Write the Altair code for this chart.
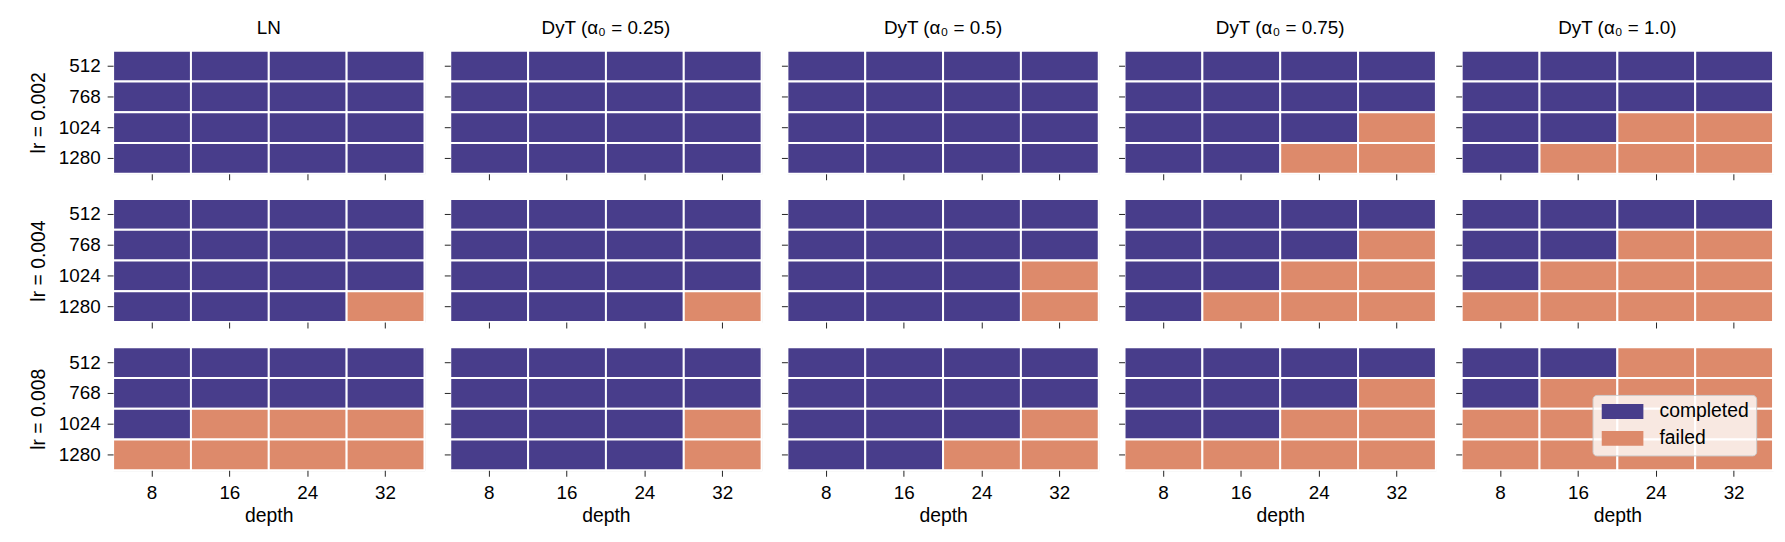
import altair as alt
import pandas as pd

methods = ["LN", "DyT (α₀ = 0.25)", "DyT (α₀ = 0.5)", "DyT (α₀ = 0.75)", "DyT (α₀ = 1.0)"]
lrs = ["0.002", "0.004", "0.008"]
depths = [8, 16, 24, 32]
widths = [512, 768, 1024, 1280]

# one grid per method; each string is a width row (512..1280), chars are depths 8..32
# C = completed, F = failed
grids_lr_0002 = [
    ["CCCC", "CCCC", "CCCC", "CCCC"],
    ["CCCC", "CCCC", "CCCC", "CCCC"],
    ["CCCC", "CCCC", "CCCC", "CCCC"],
    ["CCCC", "CCCC", "CCCF", "CCFF"],
    ["CCCC", "CCCC", "CCFF", "CFFF"],
]
grids_lr_0004 = [
    ["CCCC", "CCCC", "CCCC", "CCCF"],
    ["CCCC", "CCCC", "CCCC", "CCCF"],
    ["CCCC", "CCCC", "CCCF", "CCCF"],
    ["CCCC", "CCCF", "CCFF", "CFFF"],
    ["CCCC", "CCFF", "CFFF", "FFFF"],
]
grids_lr_0008 = [
    ["CCCC", "CCCC", "CFFF", "FFFF"],
    ["CCCC", "CCCC", "CCCF", "CCCF"],
    ["CCCC", "CCCC", "CCCF", "CCFF"],
    ["CCCC", "CCCF", "CCFF", "FFFF"],
    ["CCFF", "CFFF", "FFFF", "FFFF"],
]
all_grids = [grids_lr_0002, grids_lr_0004, grids_lr_0008]

status_names = ["completed", "failed"]
status_colors = ["#483D8B", "#DD8A6B"]

rows = []
for lr, grids in zip(lrs, all_grids):
    for m, grid in zip(methods, grids):
        for w, line in zip(widths, grid):
            for d, ch in zip(depths, line):
                rows.append({"lr": lr, "method": m, "width": w, "depth": d,
                             "status": "completed" if ch == "C" else "failed"})
df = pd.DataFrame(rows)

FONT = "Liberation Sans"
PW, PH = 314, 124

def panel(ri, ci):
    lr = lrs[ri]
    m = methods[ci]
    sub = df[(df["lr"] == lr) & (df["method"] == m)]
    last = (ri == len(lrs) - 1)
    first = (ci == 0)
    xaxis = alt.Axis(labels=last, ticks=True, tickSize=6, tickColor="#222", tickWidth=1,
                     domain=False, labelAngle=0, labelFontSize=19, labelPadding=7,
                     labelFont=FONT, labelColor="#000",
                     titleFontSize=19.5, titleFont=FONT, titleFontWeight="normal",
                     titlePadding=5, titleColor="#000")
    yaxis = alt.Axis(labels=first, ticks=True, tickSize=6, tickColor="#222", tickWidth=1,
                     domain=False, labelFontSize=19, labelPadding=7,
                     labelFont=FONT, labelColor="#000",
                     titleFontSize=19.5, titleFont=FONT, titleFontWeight="normal",
                     titlePadding=10, titleColor="#000")
    xenc = alt.X("depth:O", sort=depths, axis=xaxis,
                 title="depth" if last else None,
                 scale=alt.Scale(paddingInner=0, paddingOuter=0))
    yenc = alt.Y("width:O", sort=widths, axis=yaxis,
                 title=f"lr = {lr}" if first else None,
                 scale=alt.Scale(paddingInner=0, paddingOuter=0))
    if last and ci == len(methods) - 1:
        legend = alt.Legend(title=None, orient="none", legendX=132, legendY=48,
                            fillColor="rgba(255,255,255,0.8)", strokeColor="#cccccc",
                            cornerRadius=4, padding=7,
                            symbolType="M-1,-1H4.6V1H-1Z", symbolSize=225,
                            symbolStrokeWidth=0, symbolOpacity=1,
                            labelFontSize=19.5, labelFont=FONT, labelOffset=41,
                            labelColor="#000", rowPadding=6)
    else:
        legend = None
    color = alt.Color("status:N", scale=alt.Scale(domain=status_names, range=status_colors),
                      legend=legend)
    ch = alt.Chart(sub).mark_rect(stroke="white", strokeWidth=2).encode(
        x=xenc, y=yenc, color=color
    )
    props = dict(width=PW, height=PH)
    if ri == 0:
        props["title"] = alt.TitleParams(m, fontSize=19, font=FONT, fontWeight="normal",
                                         offset=12, color="#000")
    return ch.properties(**props)

row_charts = []
for ri in range(len(lrs)):
    row_charts.append(
        alt.hconcat(*[panel(ri, ci) for ci in range(len(methods))], spacing=17)
        .resolve_legend(color="independent")
    )

chart = alt.vconcat(*row_charts, spacing=16.5).resolve_legend(color="independent").properties(
    padding={"left": 20, "top": 8, "right": 2, "bottom": 2}
).configure_view(stroke=None).configure(font=FONT)

chart.save("out.html", embed_options={"renderer": "svg", "actions": False})
